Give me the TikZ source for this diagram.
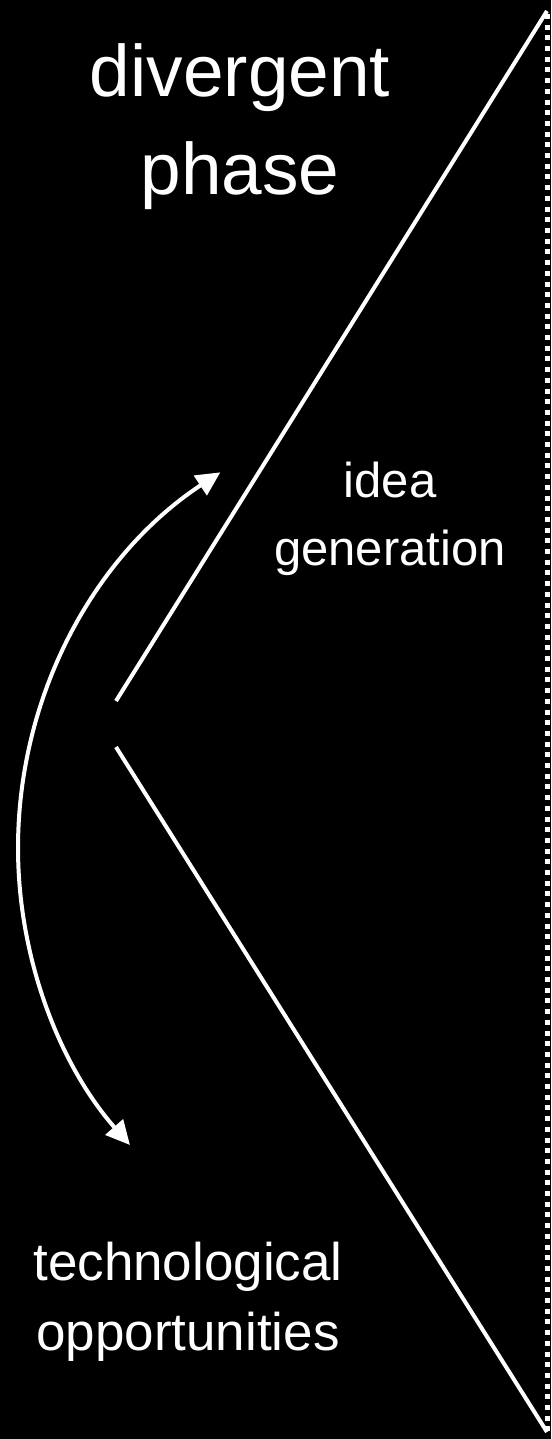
\documentclass[tikz,border=0pt]{standalone}
\usepackage{fontspec}
\setmainfont{Liberation Sans}
\usetikzlibrary{arrows.meta,calc}
\begin{document}
\begin{tikzpicture}[x=1pt,y=1pt,
  edge/.style={draw=white,line width=4pt},
  border/.style={draw=white,line width=5pt,dash pattern=on 5pt off 5.7pt},
  dblarrow/.style={draw=white,line width=4pt,
    {Triangle[length=24pt,width=23pt]}-{Triangle[length=24pt,width=23pt]}},
  lbl/.style={text=white,align=center,inner sep=0pt,anchor=north}]
\fill[black] (0,0) rectangle (551,-1439);
\useasboundingbox (0,0) rectangle (551,-1439);
% triangle corners
\coordinate (apexU) at (116,-701);
\coordinate (apexL) at (116,-747);
\coordinate (topR) at (547,-11);
\coordinate (botR) at (547,-1432);
\coordinate (dotTop) at (547.5,-14);
\coordinate (dotBot) at (547.5,-1432);
\draw[edge] (apexU) -- (topR);
\draw[edge] (apexL) -- (botR);
\draw[border] (dotTop) -- (dotBot);
% curved double arrow
\coordinate (ctr) at (468,-848);
\coordinate (arcS) at ($(ctr)+(123.4:450)$);
\draw[dblarrow] (arcS) arc[start angle=123.4,end angle=221.3,radius=450pt];
% labels
\node[lbl,font=\fontsize{73}{98}\selectfont] (phase) at (240,-43) {divergent\\phase};
\node[lbl,font=\fontsize{49}{68}\selectfont] (idea) at (390,-462) {idea\\generation};
\node[lbl,font=\fontsize{53}{70}\selectfont] (tech) at (188,-1242) {technological\\opportunities};
\end{tikzpicture}
\end{document}
